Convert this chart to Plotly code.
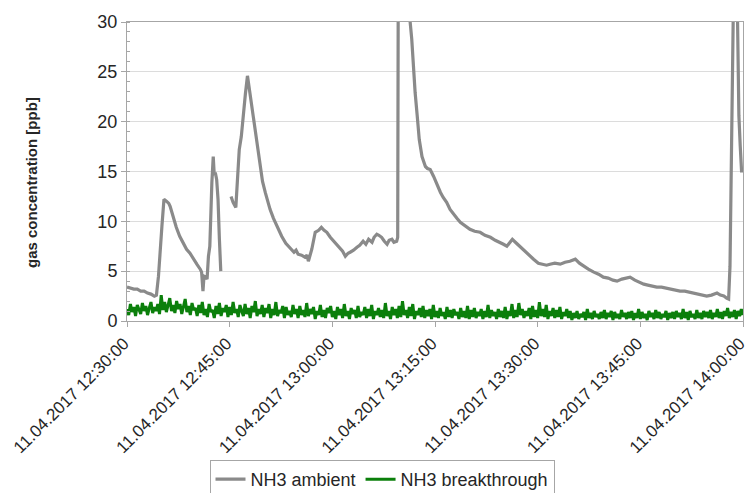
import pandas as pd
import plotly.graph_objects as go

# NH3 ambient: minutes after 12:30 and concentration in ppb (None = no data)
ambient_min = [
    0, 0.5, 1, 1.5, 2, 2.5, 3, 3.5, 4, 4.3, 4.6, 5.1, 5.4, 5.8, 6.1, 6.3, 6.8, 7.2, 7.7, 8.2,
    8.7, 9.2, 9.7, 10.2, 10.7, 10.9, 11.1, 11.25, 11.5, 11.7, 11.9, 12.1, 12.4, 12.6, 12.75,
    12.9, 13.1, 13.3, 13.5, 13.7, 14.4,
    15.2, 15.5, 15.9, 16.1, 16.4, 16.7, 17.0, 17.3, 17.6, 17.8, 18.0, 18.5, 19.0, 19.4, 19.8,
    20.2, 20.5, 20.9, 21.4, 21.9, 22.6, 23.2, 23.8, 24.4, 24.7, 25.0, 25.5, 26.0, 26.3, 26.5,
    27.0, 27.5, 28.0, 28.4, 28.8, 29.2, 29.7, 30.2, 30.6, 31.1, 31.5, 31.9, 32.3, 32.6, 33.1,
    33.6, 34.0, 34.5, 34.9, 35.3, 35.8, 36.1, 36.5, 36.8, 37.2, 37.6, 38.0, 38.3, 38.7, 39.0,
    39.4, 39.55, 39.65, 40.5, 41.3, 41.6, 41.8, 42.1, 42.4, 42.7, 43.1, 43.6, 43.9, 44.3, 44.8,
    45.3, 45.8, 46.2, 46.7, 47.2, 47.7, 48.2, 48.7, 49.4, 50.1, 50.8, 51.6, 52.3, 53.1, 53.8,
    54.5, 55.0, 55.5, 56.0, 56.3, 56.9, 57.5, 58.0, 58.4, 58.9, 59.4, 60.1, 60.8, 61.3, 61.8,
    62.5, 63.3, 64.0, 64.7, 65.5, 66.1, 66.7, 67.4, 68.2, 68.9, 69.6, 70.3, 71.0, 71.6, 72.3,
    72.9, 73.5, 74.2, 74.8, 75.5, 76.1, 76.8, 77.4, 78.1, 78.7, 79.4, 80.1, 80.8, 81.5, 82.1,
    82.8, 83.4, 84.1, 84.7, 85.4, 86.2, 86.7, 87.2, 87.6, 87.9, 88.1, 88.4, 88.6, 89.0, 89.2,
    89.4, 89.6, 89.8,
]
ambient_ppb = [
    3.4, 3.3, 3.2, 3.2, 3.0, 3.0, 2.8, 2.7, 2.5, 2.6, 4.5, 9.5, 12.2, 12.0, 11.8, 11.5, 10.2, 9.4, 8.5, 7.9,
    7.2, 6.8, 6.2, 5.7, 5.2, 4.9, 3.0, 4.5, 4.4, 4.2, 6.5, 7.5, 13.9, 16.5, 14.6,
    14.9, 14.2, 12.2, 8.2, 5.0, None,
    12.5, 11.9, 11.4, 13.5, 17.2, 18.5, 20.9, 22.8, 24.6, 23.6, 22.6, 20.2, 17.6, 15.5, 14.0,
    12.9, 12.1, 11.2, 10.3, 9.5, 8.5, 7.8, 7.4, 6.9, 7.1, 6.7, 6.6, 6.4, 6.6, 6.0,
    7.2, 8.9, 9.1, 9.4, 9.1, 8.9, 8.4, 8.0, 7.8, 7.4, 7.0, 6.5, 6.8, 6.9, 7.1,
    7.4, 7.6, 8.0, 7.7, 8.2, 7.9, 8.4, 8.7, 8.6, 8.4, 8.0, 7.7, 8.1, 8.2, 7.9,
    8.0, 8.4, 40.0, 55.0, 30.5, 28.3, 25.6, 22.9, 20.6, 18.2, 16.5, 15.5, 15.3, 15.2, 14.5,
    13.6, 12.9, 12.4, 11.9, 11.2, 10.7, 10.3, 9.9, 9.5, 9.2, 9.0, 8.9, 8.6, 8.4, 8.1,
    7.9, 7.7, 7.5, 7.9, 8.2, 7.8, 7.4, 7.1, 6.9, 6.5, 6.2, 5.8, 5.7, 5.6, 5.7,
    5.8, 5.7, 5.9, 6.0, 6.2, 5.8, 5.5, 5.2, 4.9, 4.7, 4.4, 4.3, 4.1, 4.0, 4.2,
    4.3, 4.4, 4.1, 3.9, 3.7, 3.6, 3.5, 3.4, 3.4, 3.3, 3.2, 3.1, 3.0, 3.0, 2.9,
    2.8, 2.7, 2.6, 2.5, 2.6, 2.8, 2.6, 2.5, 2.3, 2.2, 5.5, 18.9, 32.0, 40.0, 30.5,
    20.6, 17.5, 14.9,
]

# NH3 breakthrough: one reading every 15 s from 12:30 to 14:00, ppb
breakthrough_ppb = [
    1.2, 0.6, 1.7, 0.9, 1.4, 0.5, 1.6, 1.1, 0.7, 1.8, 1.0, 1.5, 0.6, 1.3, 1.9, 0.8, 1.4, 1.0, 1.7, 0.7,
    2.6, 1.1, 1.9, 0.9, 1.5, 2.3, 1.0, 1.6, 0.8, 2.0, 1.2, 1.7, 0.7, 1.4, 2.2, 0.9, 1.5, 0.6, 1.8, 1.1,
    1.3, 0.5, 1.6, 0.8, 1.9, 0.6, 1.2, 0.4, 1.7, 0.9, 1.1, 0.3, 1.5, 0.7, 1.8, 0.5, 1.3, 0.9, 1.6, 0.4,
    1.4, 0.6, 1.9, 0.8, 1.2, 0.4, 1.6, 1.0, 0.5, 1.7, 0.7, 1.3, 0.3, 1.5, 0.9, 2.0, 0.5, 1.2, 0.7, 1.6,
    0.4, 1.3, 0.8, 1.7, 0.3, 1.2, 0.6, 1.9, 0.5, 1.1, 0.8, 1.5, 0.3, 1.4, 0.6, 1.0, 0.4, 1.6, 0.7, 1.2,
    0.3, 1.5, 0.6, 1.1, 0.4, 1.8, 0.5, 1.2, 0.7, 1.4, 0.2, 1.0, 0.6, 1.6, 0.4, 1.1, 0.3, 1.3, 0.8, 1.5,
    0.4, 1.0, 0.2, 1.4, 0.6, 1.2, 0.3, 1.7, 0.5, 1.0, 0.2, 1.3, 0.7, 1.1, 0.3, 1.5, 0.4, 0.9, 0.6, 1.4,
    0.3, 1.2, 0.5, 1.6, 0.2, 1.0, 0.6, 1.3, 0.4, 1.1, 0.3, 1.8, 0.5, 1.0, 0.2, 1.4, 0.6, 1.2, 0.3, 1.5,
    0.4, 2.0, 0.6, 1.1, 0.3, 1.4, 0.5, 1.7, 0.2, 1.0, 0.6, 1.3, 0.4, 1.5, 0.3, 1.1, 0.5, 1.2, 0.2, 1.6,
    0.4, 1.0, 0.3, 1.3, 0.5, 0.9, 0.2, 1.4, 0.4, 1.1, 0.3, 1.2, 0.6, 0.9, 0.2, 1.3, 0.4, 1.0, 0.3, 1.5,
    0.2, 1.1, 0.4, 1.3, 0.3, 0.9, 0.5, 1.2, 0.2, 1.0, 0.4, 1.6, 0.3, 1.1, 0.5, 0.9, 0.2, 1.2, 0.4, 1.0,
    0.3, 1.4, 0.2, 1.0, 0.5, 1.7, 0.3, 1.1, 0.4, 1.8, 0.6, 1.2, 0.3, 1.0, 0.5, 1.3, 0.2, 1.5, 0.4, 1.1,
    0.3, 1.9, 0.5, 1.2, 0.4, 1.6, 0.2, 1.0, 0.5, 1.3, 0.3, 1.1, 0.4, 1.4, 0.2, 0.9, 0.5, 1.2, 0.3, 1.0,
    0.1, 0.8, 0.3, 1.0, 0.2, 0.7, 0.4, 0.9, 0.1, 1.2, 0.3, 0.8, 0.2, 1.0, 0.4, 0.7, 0.2, 0.9, 0.3, 1.1,
    0.2, 0.8, 0.4, 1.0, 0.1, 0.9, 0.3, 0.7, 0.2, 1.1, 0.4, 0.8, 0.2, 0.9, 0.3, 1.0, 0.1, 0.8, 0.3, 1.2,
    0.2, 0.9, 0.3, 0.7, 0.1, 1.0, 0.4, 0.8, 0.2, 1.1, 0.3, 0.9, 0.2, 0.7, 0.4, 1.0, 0.1, 0.8, 0.3, 0.9,
    0.2, 1.0, 0.4, 0.8, 0.2, 1.2, 0.3, 0.9, 0.1, 1.0, 0.4, 0.7, 0.2, 1.1, 0.3, 0.8, 0.2, 1.0, 0.4, 0.9,
    0.3, 1.1, 0.2, 0.8, 0.4, 1.2, 0.3, 0.9, 0.2, 1.0, 0.5, 1.3, 0.3, 0.9, 0.4, 1.1, 0.2, 1.0, 0.5, 1.2,
    0.6,
]
breakthrough_step_min = 0.25

start = pd.Timestamp("2017-04-11 12:30:00")
end = pd.Timestamp("2017-04-11 14:00:00")
tick_times = pd.date_range(start, end, freq="15min")

ambient_t = start + pd.to_timedelta(ambient_min, unit="min")
breakthrough_t = start + pd.to_timedelta(
    [i * breakthrough_step_min for i in range(len(breakthrough_ppb))], unit="min")

FONT = "Liberation Sans, Arial, sans-serif"
AXIS_GREY = "#a6a6a6"
TEXT = "#262626"

# plot area in pixels
L, R, T, B = 127, 5, 22, 172
W, H = 748, 493
plot_w, plot_h = W - L - R, H - T - B

fig = go.Figure()
fig.add_trace(go.Scatter(
    x=ambient_t, y=ambient_ppb, mode="lines", name="NH3 ambient",
    line=dict(color="#8a8a8a", width=3.2), connectgaps=False,
))
fig.add_trace(go.Scatter(
    x=breakthrough_t, y=breakthrough_ppb, mode="lines", name="NH3 breakthrough",
    line=dict(color="#0b7f0b", width=3),
))

fig.update_layout(
    width=W, height=H,
    margin=dict(l=L, r=R, t=T, b=B, autoexpand=False),
    paper_bgcolor="white", plot_bgcolor="white",
    font=dict(family=FONT, size=15, color=TEXT),
    showlegend=True,
    legend=dict(
        orientation="h", xref="container", yref="container",
        x=382 / W, xanchor="center", y=1 - 460 / H, yanchor="top",
        bordercolor="#a6a6a6", borderwidth=1,
        font=dict(size=18, color=TEXT),
        itemwidth=30,
    ),
    annotations=[dict(
        text="<b>gas concentration [ppb]</b>", textangle=-90,
        xref="paper", yref="paper",
        x=(31 - L) / plot_w, y=(H - B - 183) / plot_h,
        xanchor="center", yanchor="middle", showarrow=False,
        font=dict(size=15, color=TEXT),
    )],
)
fig.update_xaxes(
    type="date", range=[start, end], automargin=False,
    tickmode="array", tickvals=tick_times,
    tickformat="%d.%m.%Y %H:%M:%S", tickangle=-45,
    ticklabeloverflow="allow", ticklabelshift=-3,
    showgrid=False, showline=True, linecolor=AXIS_GREY, linewidth=1, mirror=True,
    ticks="outside", ticklen=5, tickcolor=AXIS_GREY,
    tickfont=dict(size=17), zeroline=False,
)
fig.update_yaxes(
    range=[0, 30], dtick=5, automargin=False,
    showgrid=True, gridcolor="#dcdcdc", gridwidth=1,
    showline=True, linecolor=AXIS_GREY, linewidth=1, mirror=True,
    ticks="outside", ticklen=5, tickcolor=AXIS_GREY,
    minor=dict(dtick=1, ticks="inside", ticklen=3, tickcolor=AXIS_GREY, showgrid=False),
    tickfont=dict(size=18), zeroline=False,
)

fig.write_html("out.html")
